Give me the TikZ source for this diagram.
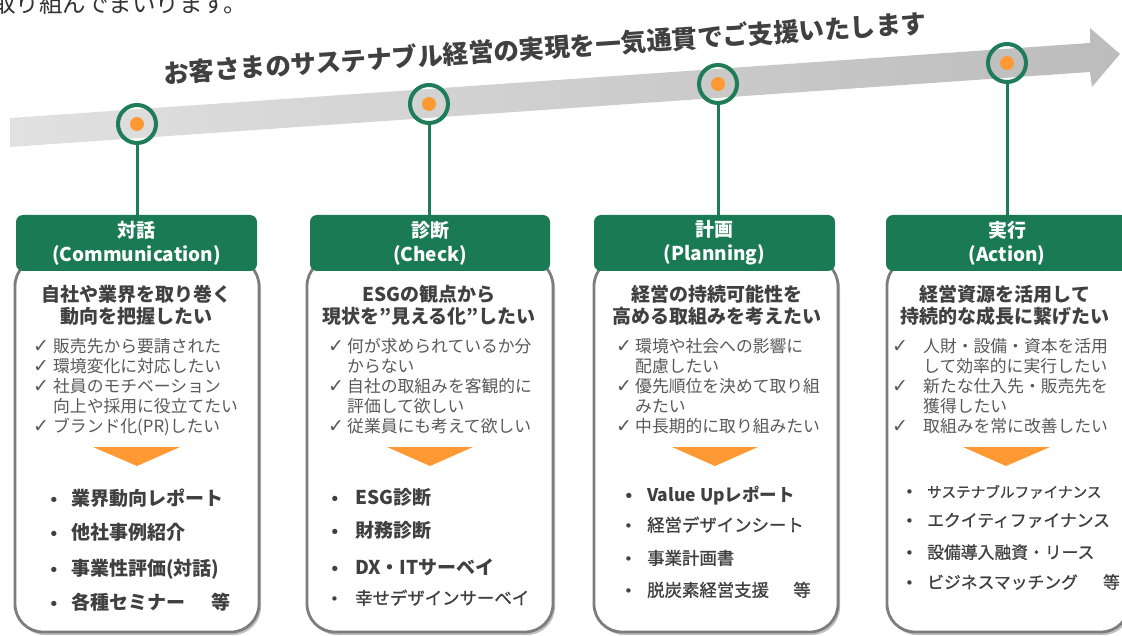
\documentclass[tikz,border=0pt]{standalone}
\usepackage{fontspec}
\newfontfamily\jp{Noto Sans CJK JP}
\newfontfamily\jpm[FakeBold=1]{Noto Sans CJK JP}
\newfontfamily\djv{DejaVu Sans}
\usetikzlibrary{shadows}
\definecolor{hdrgreen}{RGB}{26,122,84}
\definecolor{ringgreen}{RGB}{30,125,88}
\definecolor{dotorange}{RGB}{255,153,51}
\definecolor{txtdark}{RGB}{64,64,64}
\definecolor{txtgray}{RGB}{89,89,89}
\definecolor{bordergray}{RGB}{125,125,125}
\definecolor{arrowL}{RGB}{225,225,225}
\definecolor{arrowR}{RGB}{188,188,188}
\newcommand\ck[1]{\makebox[#1][l]{\djv\fontsize{19}{14}\selectfont ✓}}
\newcommand\ind[1]{\makebox[#1]{}}
\newcommand\bul[1]{\makebox[#1][l]{\djv\fontsize{15}{13}\selectfont •}}
\begin{document}
\begin{tikzpicture}[x=1pt,y=-1pt,
  hdr/.style={fill=hdrgreen, rounded corners=7pt, text=white, font=\jp\bfseries\fontsize{19}{24}\selectfont, align=center, minimum height=56pt, inner sep=0pt},
  cardbody/.style={draw=bordergray, line width=2.8pt, fill=white, rounded corners=28pt, inner sep=0pt, drop shadow={shadow xshift=2pt, shadow yshift=-3pt, opacity=0.35, fill=black!70}},
  ring/.style={circle, draw=ringgreen, line width=4pt, minimum size=38pt, inner sep=0pt},
  odot/.style={circle, fill=dotorange, minimum size=14pt, inner sep=0pt},
  stem/.style={draw=ringgreen, line width=3pt},
  ttl/.style={font=\jp\bfseries\fontsize{19}{22}\selectfont, text=txtdark, align=center, inner sep=0pt, anchor=north},
  chk/.style={font=\jp\fontsize{16.8}{20}\selectfont, text=txtgray, align=left, inner sep=0pt, anchor=north west},
  bi/.style={font=\jp\bfseries\fontsize{19}{19}\selectfont, text=txtdark, inner sep=0pt, anchor=base west},
  bm/.style={font=\jpm\fontsize{17.4}{19}\selectfont, text=txtdark, inner sep=0pt, anchor=base west},
  tri/.style={fill=dotorange}
]
\useasboundingbox (0,0) rectangle (1122,636);

% top cut text
\node[font=\jp\fontsize{23.5}{23.5}\selectfont, text=black!80, anchor=base west, inner sep=0pt] (toptxt) at (-8,13) {取り組んでまいります。};

% big arrow
\shade[left color=arrowL, right color=arrowR] (10,118) -- (1090,43) -- (1090,28) -- (1120,54) -- (1092,87) -- (1090,72) -- (10,147) -- cycle;
\node[rotate=3.8, font=\jp\bfseries\fontsize{25.5}{26}\selectfont, text=txtdark, inner sep=0pt] (maintitle) at (545,48) {お客さまのサステナブル経営の実現を一気通貫でご支援いたします};

% rings
\node[ring] (r1) at (137,124) {};
\node[ring] (r2) at (429,104) {};
\node[ring] (r3) at (718,84) {};
\node[ring] (r4) at (1007,63) {};
\node[odot] (d1) at (r1) {};
\node[odot] (d2) at (r2) {};
\node[odot] (d3) at (r3) {};
\node[odot] (d4) at (r4) {};

% bodies
\node[cardbody, minimum width=244pt, minimum height=374pt] (b1) at (137,445) {};
\node[cardbody, minimum width=246pt, minimum height=374pt] (b2) at (430,445) {};
\node[cardbody, minimum width=244pt, minimum height=374pt] (b3) at (716,445) {};
\node[cardbody, minimum width=242pt, minimum height=374pt] (b4) at (1008,445) {};

% headers
\node[hdr, minimum width=241pt] (h1) at (136.5,243) {対話\\(Communication)};
\node[hdr, minimum width=240pt] (h2) at (430,243) {診断\\(Check)};
\node[hdr, minimum width=241pt] (h3) at (714.5,243) {計画\\(Planning)};
\node[hdr, minimum width=242pt] (h4) at (1007,243) {実行\\(Action)};

% stems
\draw[stem] (r1.south) -- (r1.south |- h1.north);
\draw[stem] (r2.south) -- (r2.south |- h2.north);
\draw[stem] (r3.south) -- (r3.south |- h3.north);
\draw[stem] (r4.south) -- (r4.south |- h4.north);

% titles
\node[ttl] (t1) at (136.5,285) {自社や業界を取り巻く\\動向を把握したい};
\node[ttl] (t2) at (429,285) {ESGの観点から\\現状を”見える化”したい};
\node[ttl] (t3) at (717,285) {経営の持続可能性を\\高める取組みを考えたい};
\node[ttl] (t4) at (1005,285) {経営資源を活用して\\持続的な成長に繋げたい};

% check lists
\node[chk] (c1) at (33,338.5) {\ck{20pt}販売先から要請された\\\ck{20pt}環境変化に対応したい\\\ck{20pt}社員のモチベーション\\\ind{20pt}向上や採用に役立てたい\\\ck{20pt}ブランド化(PR)したい};
\node[chk] (c2) at (328,338.5) {\ck{19pt}何が求められているか分\\\ind{19pt}からない\\\ck{19pt}自社の取組みを客観的に\\\ind{19pt}評価して欲しい\\\ck{19pt}従業員にも考えて欲しい};
\node[chk] (c3) at (616,338.5) {\ck{19pt}環境や社会への影響に\\\ind{19pt}配慮したい\\\ck{19pt}優先順位を決めて取り組\\\ind{19pt}みたい\\\ck{19pt}中長期的に取り組みたい};
\node[chk] (c4) at (892,338.5) {\ck{31pt}人財・設備・資本を活用\\\ind{31pt}して効率的に実行したい\\\ck{31pt}新たな仕入先・販売先を\\\ind{31pt}獲得したい\\\ck{31pt}取組みを常に改善したい};

% orange triangles
\fill[tri] (93,447) -- (180,447) -- (137,466) -- cycle;
\fill[tri] (387,447) -- (473,447) -- (430,466) -- cycle;
\fill[tri] (672,447) -- (758,447) -- (715,466) -- cycle;
\fill[tri] (963,447) -- (1050,447) -- (1006,466) -- cycle;

% bullets card 1
\node[bi] (s1a) at (49,505) {\bul{22pt}業界動向レポート};
\node[bi] (s1b) at (49,539) {\bul{22pt}他社事例紹介};
\node[bi] (s1c) at (49,575) {\bul{22pt}事業性評価(対話)};
\node[bi] (s1d) at (49,609) {\bul{22pt}各種セミナー\hspace{1.4em}等};
% bullets card 2
\node[bi] (s2a) at (330,504) {\bul{25pt}ESG診断};
\node[bi] (s2b) at (330,537) {\bul{25pt}財務診断};
\node[bi] (s2c) at (330,574) {\bul{25pt}DX・ITサーベイ};
\node[bm] (s2d) at (330,604.5) {\bul{25pt}幸せデザインサーベイ};
% bullets card 3
\node[bi, font=\jp\bfseries\fontsize{17.5}{19}\selectfont] (s3a) at (624,501.5) {\bul{23pt}Value Upレポート};
\node[bm] (s3b) at (624,531.5) {\bul{23pt}経営デザインシート};
\node[bm] (s3c) at (624,564.5) {\bul{23pt}事業計画書};
\node[bm] (s3d) at (624,596.5) {\bul{23pt}脱炭素経営支援\hspace{1.4em}等};
% bullets card 4
\node[bm, font=\jpm\fontsize{14.6}{16}\selectfont] (s4a) at (905,497.5) {\bul{22pt}サステナブルファイナンス};
\node[bm, font=\jpm\fontsize{16.8}{18}\selectfont] (s4b) at (905,526.5) {\bul{22pt}エクイティファイナンス};
\node[bm, font=\jpm\fontsize{16.8}{18}\selectfont] (s4c) at (905,558.5) {\bul{22pt}設備導入融資・リース};
\node[bm, font=\jpm\fontsize{16.8}{18}\selectfont] (s4d) at (905,588.5) {\bul{22pt}ビジネスマッチング\hspace{1.5em}等};
\end{tikzpicture}
\end{document}
